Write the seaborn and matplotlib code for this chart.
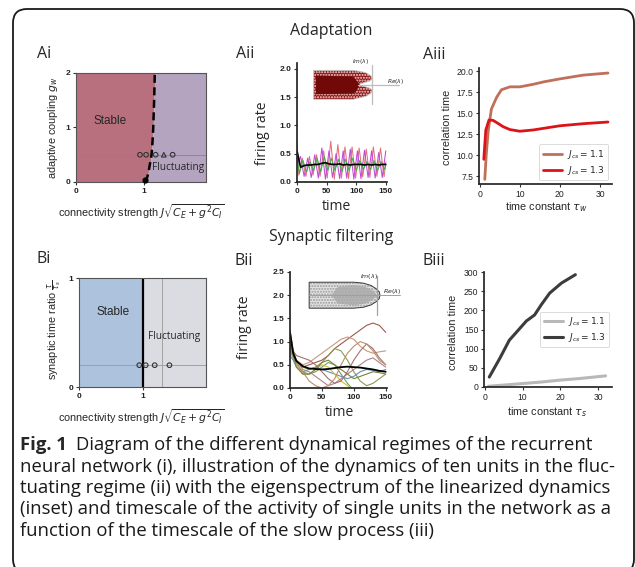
import matplotlib
matplotlib.use("Agg")
import matplotlib.pyplot as plt
import seaborn as sns
from matplotlib.patches import FancyBboxPatch

# ---------------- Ai : adaptation phase diagram ----------------
ai_boundary_y = [0.0, 0.1, 0.25, 0.5, 0.75, 1.0, 1.5, 2.0]
ai_boundary_x = [1.02, 1.05, 1.075, 1.11, 1.125, 1.135, 1.148, 1.158]
ai_points_x = [0.94, 1.03, 1.17, 1.29, 1.42]
ai_points_y = [0.5, 0.5, 0.5, 0.5, 0.5]
ai_points_marker = ["o", "o", "o", "^", "o"]
ai_xticks = [0, 1]
ai_yticks = [0, 1, 2]

# ---------------- Bi : synaptic filtering phase diagram ----------------
bi_boundary_x = 1.0
bi_ref_x = 1.3
bi_ref_y = 0.2
bi_points_x = [0.94, 1.04, 1.18, 1.41]
bi_points_y = [0.2, 0.2, 0.2, 0.2]
bi_xticks = [0, 1]
bi_yticks = [0, 1]

# ---------------- Aii : firing rate traces (adaptation) ----------------
aii_t_a = [0, 3, 9, 15, 21, 27, 33, 39, 45, 51, 57, 63, 69, 75, 81, 87, 93, 99, 105,
           111, 117, 123, 129, 135, 141, 147, 150]
aii_pink = [0.70, 0.12, 0.42, 0.10, 0.45, 0.12, 0.48, 0.10, 0.55, 0.07, 0.72, 0.05,
            0.66, 0.07, 0.62, 0.06, 0.62, 0.07, 0.60, 0.09, 0.58, 0.08, 0.62, 0.10,
            0.60, 0.09, 0.35]
aii_t_b = [0, 6, 12, 18, 24, 30, 36, 42, 48, 54, 60, 66, 72, 78, 84, 90, 96, 102, 108,
           114, 120, 126, 132, 138, 144, 150]
aii_purple = [0.30, 0.45, 0.10, 0.42, 0.08, 0.48, 0.07, 0.60, 0.05, 0.55, 0.08, 0.50,
              0.06, 0.55, 0.07, 0.58, 0.05, 0.55, 0.06, 0.56, 0.08, 0.55, 0.07, 0.52,
              0.08, 0.55]
aii_mean = [0.55, 0.26, 0.29, 0.30, 0.30, 0.31, 0.31, 0.33, 0.34, 0.32, 0.31, 0.31,
            0.32, 0.30, 0.31, 0.30, 0.31, 0.31, 0.31, 0.30, 0.31, 0.30, 0.31, 0.30,
            0.31, 0.31]
aii_t_c = [0, 4, 10, 16, 22, 28, 34, 40, 46, 52, 58, 64, 70, 76, 82, 88, 94, 100, 106,
           112, 118, 124, 130, 136, 142, 148, 150]
aii_green = [0.45, 0.15, 0.38, 0.18, 0.36, 0.20, 0.42, 0.18, 0.45, 0.20, 0.42, 0.20,
             0.40, 0.18, 0.40, 0.20, 0.42, 0.20, 0.38, 0.22, 0.36, 0.22, 0.38, 0.20,
             0.36, 0.22, 0.30]
aii_xticks = [0, 50, 100, 150]
aii_yticks = [0.0, 0.5, 1.0, 1.5, 2.0]
# eigenspectrum inset outline (drawn in the Aii data frame)
aii_inset_x = [28, 95, 108, 118, 125, 127, 122, 112, 103, 112, 122, 127, 125, 118, 108, 95, 28]
aii_inset_y = [1.97, 1.97, 1.95, 1.92, 1.87, 1.82, 1.78, 1.75, 1.72, 1.69, 1.66, 1.62,
               1.57, 1.52, 1.49, 1.46, 1.46]
aii_core_x = [32, 95, 106, 100, 95, 32]
aii_core_y = [1.88, 1.86, 1.72, 1.60, 1.56, 1.55]

# ---------------- Bii : firing rate traces (synaptic filtering) ----------------
bii_t = [0, 5, 10, 20, 30, 40, 50, 60, 70, 80, 90, 100, 110, 120, 130, 140, 150]
bii_traces = [
    [1.25, 0.80, 0.55, 0.45, 0.50, 0.55, 0.60, 0.70, 0.85, 0.95, 1.05, 1.15, 1.25, 1.35, 1.40, 1.35, 1.20],
    [0.90, 0.70, 0.60, 0.50, 0.55, 0.65, 0.75, 0.85, 0.95, 1.05, 1.10, 1.05, 0.90, 0.80, 0.75, 0.78, 0.80],
    [1.00, 0.75, 0.60, 0.45, 0.40, 0.45, 0.55, 0.70, 0.85, 0.80, 0.60, 0.35, 0.15, 0.05, 0.10, 0.20, 0.30],
    [0.80, 0.65, 0.50, 0.35, 0.30, 0.35, 0.45, 0.55, 0.50, 0.30, 0.10, -0.05, -0.10, -0.10, -0.10, -0.10, -0.10],
    [0.70, 0.60, 0.45, 0.35, 0.40, 0.45, 0.40, 0.35, 0.30, 0.25, 0.20, 0.25, 0.35, 0.40, 0.38, 0.35, 0.40],
    [0.90, 0.70, 0.50, 0.30, 0.30, 0.40, 0.50, 0.45, 0.30, 0.15, 0.05, -0.05, -0.10, -0.10, -0.10, -0.10, -0.10],
    [1.10, 0.80, 0.60, 0.40, 0.35, 0.25, 0.15, 0.05, 0.10, 0.20, 0.30, 0.40, 0.50, 0.60, 0.65, 0.55, 0.45],
    [0.95, 0.80, 0.70, 0.65, 0.60, 0.50, 0.35, 0.20, 0.10, 0.15, 0.35, 0.60, 0.80, 0.95, 0.85, 0.65, 0.50],
    [0.85, 0.70, 0.55, 0.35, 0.15, 0.05, 0.00, 0.05, 0.20, 0.50, 0.75, 0.90, 1.00, 0.95, 0.80, 0.60, 0.50],
    [1.00, 0.70, 0.45, 0.30, 0.30, 0.40, 0.55, 0.60, 0.50, 0.40, 0.30, 0.20, 0.25, 0.30, 0.35, 0.33, 0.30],
]
bii_colors = ["#9c5a4c", "#c49a7c", "#8c9a50", "#6ea060", "#5f93b5",
              "#c8c040", "#b08090", "#a8706a", "#b89070", "#7a8040"]
bii_mean = [1.20, 0.75, 0.58, 0.47, 0.42, 0.41, 0.40, 0.41, 0.43, 0.45, 0.46, 0.45, 0.44, 0.42, 0.40, 0.37, 0.35]
bii_xticks = [0, 50, 100, 150]
bii_yticks = [0.0, 0.5, 1.0, 1.5, 2.0, 2.5]
bii_inset_x = [30, 100, 115, 127, 135, 140, 141, 140, 135, 127, 115, 100, 30]
bii_inset_y = [2.28, 2.28, 2.26, 2.21, 2.14, 2.07, 2.00, 1.93, 1.86, 1.79, 1.74, 1.72, 1.72]
bii_core_x = [75, 100, 118, 130, 136, 130, 118, 100, 75, 65]
bii_core_y = [2.18, 2.22, 2.18, 2.10, 2.00, 1.90, 1.82, 1.78, 1.82, 2.00]

# ---------------- Aiii / Biii : correlation time ----------------
aiii_tau_11 = [1.25, 1.6, 2.1, 2.9, 4.2, 5.4, 7.5, 10, 13.3, 16, 20, 25.8, 32]
aiii_corr_11 = [7.1, 10.0, 12.9, 15.5, 16.9, 17.8, 18.15, 18.15, 18.45, 18.75, 19.1, 19.55, 19.8]
aiii_tau_13 = [1.0, 1.5, 2.3, 3.3, 4.5, 5.8, 7.5, 10, 13.3, 20, 25.8, 32]
aiii_corr_13 = [9.5, 13.0, 14.2, 14.15, 13.8, 13.4, 13.05, 12.85, 13.0, 13.5, 13.75, 13.95]
aiii_xticks = [0, 10, 20, 30]
aiii_yticks = [7.5, 10.0, 12.5, 15.0, 17.5, 20.0]

biii_tau_11 = [1, 5, 10, 15, 20, 25, 32]
biii_corr_11 = [2, 5, 9, 13, 18, 22, 29]
biii_tau_13 = [1.2, 4, 6.5, 9.3, 11, 13.2, 15, 17.2, 20.3, 24]
biii_corr_13 = [26, 75, 122, 153, 172, 188, 215, 245, 271, 293]
biii_xticks = [0, 10, 20, 30]
biii_yticks = [0, 50, 100, 150, 200, 250, 300]

legend_labels = [r"$J_{cs} = 1.1$", r"$J_{cs} = 1.3$"]

caption_bold = "Fig. 1"
caption_lines = [
    "Diagram of the different dynamical regimes of the recurrent",
    "neural network (i), illustration of the dynamics of ten units in the fluc-",
    "tuating regime (ii) with the eigenspectrum of the linearized dynamics",
    "(inset) and timescale of the activity of single units in the network as a",
    "function of the timescale of the slow process (iii)",
]

# ====================================================================
sns.set_theme(style="ticks")
plt.rcParams["font.family"] = ["Liberation Sans", "DejaVu Sans"]
plt.rcParams["mathtext.fontset"] = "dejavusans"
HUM = ["Open Sans", "DejaVu Sans"]

W, H = 635, 567
fig = plt.figure(figsize=(W / 100, H / 100), dpi=100)


def add_ax(l, t, r, b):
    return fig.add_axes([l / W, 1 - b / H, (r - l) / W, (b - t) / H])


def place_labels(ax, box, xlab, xc, yc_x, ylab, xc_y, yc, fs, fam=None):
    l, t, r, b = box
    kw = {"fontsize": fs}
    if fam:
        kw["family"] = fam
    ax.set_xlabel(xlab, va="center", **kw)
    ax.xaxis.set_label_coords((xc - l) / (r - l), (b - yc_x) / (b - t))
    ax.set_ylabel(ylab, va="center", **kw)
    ax.yaxis.set_label_coords((xc_y - l) / (r - l), (b - yc) / (b - t))


def style_ticks(ax, bold=False, size=6):
    ax.tick_params(labelsize=size, length=2.5, width=0.8, pad=1.5, colors="#333333")
    for lab in ax.get_xticklabels() + ax.get_yticklabels():
        lab.set_fontweight("bold" if bold else "normal")
        lab.set_color("#222222")


# ---------------- outer rounded frame ----------------
fig.patches.append(FancyBboxPatch((0.13, -0.06), 6.21, 5.64, boxstyle="round,pad=0,rounding_size=0.14",
                                  transform=fig.dpi_scale_trans, fill=False, lw=1.3, ec="#1a1a1a"))

# ---------------- titles and panel labels ----------------
fig.text(331 / W, 1 - 31 / H, "Adaptation", ha="center", va="center", fontsize=11.5, family=HUM)
fig.text(331 / W, 1 - 237 / H, "Synaptic filtering", ha="center", va="center", fontsize=11.5, family=HUM)
for lab, x, y in [("Ai", 37, 54), ("Aii", 236, 54), ("Aiii", 423, 55),
                  ("Bi", 37, 259), ("Bii", 235, 261), ("Biii", 423, 261)]:
    fig.text(x / W, 1 - y / H, lab, ha="left", va="center", fontsize=11.5, family=HUM)

# ---------------- Ai ----------------
box = (76, 73, 206, 182)
ax = add_ax(*box)
xmax = 1.91
ax.fill_betweenx(ai_boundary_y, 0, ai_boundary_x, color="#b9707e", lw=0)
ax.fill_betweenx(ai_boundary_y, ai_boundary_x, xmax, color="#b4a4bf", lw=0)
ax.axhline(0.5, color="#8c7f8c", lw=0.6)
sns.lineplot(x=ai_boundary_x, y=ai_boundary_y, ax=ax, color="black", lw=1.8,
             linestyle=(0, (3.2, 1.8)), sort=False, estimator=None)
for xx, yy, mk in zip(ai_points_x, ai_points_y, ai_points_marker):
    ax.scatter([xx], [yy], marker=mk, s=11, facecolors="none", edgecolors="#333333", linewidths=0.8, zorder=4)
ax.scatter([1.02], [0.03], s=12, color="black", zorder=5, clip_on=False)
ax.text(0.25, 1.06, "Stable", fontsize=8.5, va="baseline")
ax.text(1.12, 0.22, "Fluctuating", fontsize=7.3, va="baseline", family=HUM)
ax.set_xlim(0, xmax)
ax.set_ylim(0, 2)
ax.set_xticks(ai_xticks)
ax.set_yticks(ai_yticks)
for sp in ax.spines.values():
    sp.set_color("#555555")
    sp.set_linewidth(0.8)
style_ticks(ax, bold=True)
place_labels(ax, box, r"connectivity strength $J\sqrt{C_E+g^2C_I}$", 141, 212,
             r"adaptive coupling $g_w$", 53, 128, 7.8)

# ---------------- Bi ----------------
box = (79, 278, 206, 387)
ax = add_ax(*box)
xmax = 1.98
ax.axvspan(0, bi_boundary_x, color="#adc2dc", lw=0)
ax.axvspan(bi_boundary_x, xmax, color="#dadce1", lw=0)
ax.axvline(bi_ref_x, color="#9a9a9a", lw=0.6)
ax.axhline(bi_ref_y, color="#9a9a9a", lw=0.6)
ax.axvline(bi_boundary_x, color="black", lw=1.6)
sns.scatterplot(x=bi_points_x, y=bi_points_y, ax=ax, marker="o", s=11, facecolor="none",
                edgecolor="#333333", linewidth=0.8, zorder=4, legend=False)
ax.text(0.27, 0.66, "Stable", fontsize=8.5, va="baseline")
ax.text(1.08, 0.44, "Fluctuating", fontsize=7.3, va="baseline", family=HUM)
ax.set_xlim(0, xmax)
ax.set_ylim(0, 1)
ax.set_xticks(bi_xticks)
ax.set_yticks(bi_yticks)
for sp in ax.spines.values():
    sp.set_color("#555555")
    sp.set_linewidth(0.8)
style_ticks(ax, bold=True)
place_labels(ax, box, r"connectivity strength $J\sqrt{C_E+g^2C_I}$", 141, 417,
             r"synaptic time ratio $\frac{\tau}{\tau_s}$", 55, 330, 7.8)

# ---------------- Aii ----------------
box = (297, 63, 387, 182)
ax = add_ax(*box)
sns.lineplot(x=aii_t_a, y=aii_pink, ax=ax, color="#e4707c", lw=0.75)
sns.lineplot(x=aii_t_b, y=aii_purple, ax=ax, color="#c04ad8", lw=0.75)
sns.lineplot(x=aii_t_c, y=aii_green, ax=ax, color="#3fae48", lw=0.75)
sns.lineplot(x=aii_t_b, y=aii_mean, ax=ax, color="black", lw=1.2)
# inset eigenspectrum
ax.fill(aii_inset_x, aii_inset_y, facecolor="#8e1515", edgecolor="#f3dada", hatch="......",
        lw=0, zorder=3)
ax.fill(aii_inset_x, aii_inset_y, facecolor="none", edgecolor="#c9c9c9", lw=0.6, zorder=4)
ax.fill(aii_core_x, aii_core_y, facecolor="#720909", lw=0, zorder=4)
ax.plot([127, 127], [1.37, 2.06], color="#bdbdbd", lw=0.9, zorder=5, clip_on=False)
ax.plot([103, 172], [1.72, 1.72], color="#bdbdbd", lw=0.9, zorder=5, clip_on=False)
ax.text(93, 2.13, r"$Im(\lambda)$", fontsize=4.2, zorder=6, va="center")
ax.text(152, 1.78, r"$Re(\lambda)$", fontsize=4.2, zorder=6, va="center")
ax.set_xlim(0, 152)
ax.set_ylim(0, 2.1)
ax.set_xticks(aii_xticks)
ax.set_yticks(aii_yticks)
ax.set_yticklabels(["0.0", "0.5", "1.0", "1.5", "2.0"])
sns.despine(ax=ax)
style_ticks(ax, bold=True)
place_labels(ax, box, "time", 336, 206, "firing rate", 263, 133, 10, fam=HUM)

# ---------------- Bii ----------------
box = (290, 272, 387, 388)
ax = add_ax(*box)
for tr, c in zip(bii_traces, bii_colors):
    sns.lineplot(x=bii_t, y=tr, ax=ax, color=c, lw=0.8)
sns.lineplot(x=bii_t, y=bii_mean, ax=ax, color="black", lw=1.3)
ax.fill(bii_inset_x, bii_inset_y, facecolor="#e3e3e3", edgecolor="#9a9a9a", hatch="......",
        lw=0, zorder=3)
ax.fill(bii_core_x, bii_core_y, facecolor="#a9a9a9", lw=0, alpha=0.8, zorder=4)
ax.fill(bii_inset_x, bii_inset_y, facecolor="none", edgecolor="#3a3a3a", lw=0.7, zorder=5)
ax.plot([137, 137], [1.58, 2.41], color="#a0a0a0", lw=0.9, zorder=6, clip_on=False)
ax.plot([30, 172], [2.0, 2.0], color="#a0a0a0", lw=0.7, zorder=6, clip_on=False)
ax.text(110, 2.41, r"$Im(\lambda)$", fontsize=4.5, zorder=7, va="center")
ax.text(146, 2.08, r"$Re(\lambda)$", fontsize=4.5, zorder=7, va="center")
ax.set_xlim(0, 152)
ax.set_ylim(0, 2.5)
ax.set_xticks(bii_xticks)
ax.set_yticks(bii_yticks)
ax.set_yticklabels(["0.0", "0.5", "1.0", "1.5", "2.0", "2.5"])
sns.despine(ax=ax)
style_ticks(ax, bold=True)
place_labels(ax, box, "time", 339, 413, "firing rate", 245, 327, 10, fam=HUM)

# ---------------- Aiii ----------------
box = (479, 68, 612, 184)
ax = add_ax(*box)
sns.lineplot(x=aiii_tau_11, y=aiii_corr_11, ax=ax, color="#c0705a", lw=2.0, label=legend_labels[0])
sns.lineplot(x=aiii_tau_13, y=aiii_corr_13, ax=ax, color="#dc1418", lw=2.0, label=legend_labels[1])
ax.set_xlim(-0.2, 33)
ax.set_ylim(6.55, 20.4)
ax.set_xticks(aiii_xticks)
ax.set_yticks(aiii_yticks)
ax.set_yticklabels(["7.5", "10.0", "12.5", "15.0", "17.5", "20.0"])
sns.despine(ax=ax)
style_ticks(ax, size=6.2)
leg = ax.legend(loc="lower right", fontsize=6.5, handlelength=2.2, borderaxespad=0.4,
                handletextpad=0.5, borderpad=0.4, labelspacing=0.3, frameon=True)
leg.get_frame().set_edgecolor("#cccccc")
leg.get_frame().set_linewidth(0.6)
place_labels(ax, box, r"time constant $\tau_w$", 546, 207, "correlation time", 447, 127, 7.8)

# ---------------- Biii ----------------
box = (484, 272, 612, 387)
ax = add_ax(*box)
sns.lineplot(x=biii_tau_11, y=biii_corr_11, ax=ax, color="#b8b8b8", lw=2.2, label=legend_labels[0])
sns.lineplot(x=biii_tau_13, y=biii_corr_13, ax=ax, color="#3c3c3c", lw=2.2, label=legend_labels[1])
ax.set_xlim(-0.2, 33.7)
ax.set_ylim(0, 300)
ax.set_xticks(biii_xticks)
ax.set_yticks(biii_yticks)
sns.despine(ax=ax)
style_ticks(ax, size=6.2)
leg = ax.legend(loc="center right", bbox_to_anchor=(1.0, 0.5), fontsize=6.5, handlelength=2.2,
                borderaxespad=0.3, handletextpad=0.5, borderpad=0.4, labelspacing=0.3, frameon=True)
leg.get_frame().set_edgecolor("#cccccc")
leg.get_frame().set_linewidth(0.6)
place_labels(ax, box, r"time constant $\tau_s$", 547, 412, "correlation time", 453, 332, 7.8)

# ---------------- caption ----------------
renderer = fig.canvas.get_renderer()
probe = fig.text(0, 0, caption_lines[1], fontsize=12, family=HUM)
wpx = probe.get_window_extent(renderer).width
probe.remove()
cap_fs = 12 * 592.0 / wpx
ys = [445, 466.5, 488, 509.5, 531]
bold = fig.text(20 / W, 1 - ys[0] / H, caption_bold, fontsize=cap_fs, family=HUM, weight="bold",
                va="center", ha="left")
bw = bold.get_window_extent(renderer).width
fig.text((20 + bw + 9) / W, 1 - ys[0] / H, caption_lines[0], fontsize=cap_fs, family=HUM,
         va="center", ha="left", color="#1a1a1a")
for line, y in zip(caption_lines[1:], ys[1:]):
    fig.text(20 / W, 1 - y / H, line, fontsize=cap_fs, family=HUM, va="center", ha="left",
             color="#1a1a1a")

fig.savefig("out.png", dpi=100)
